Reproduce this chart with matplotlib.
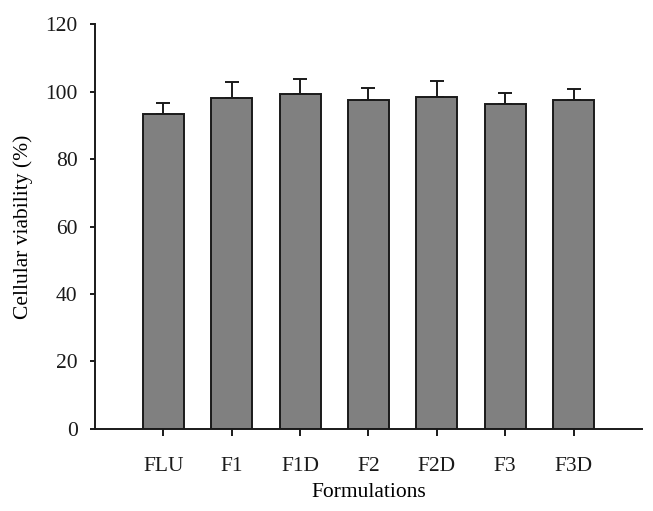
import matplotlib
matplotlib.use("Agg")
import matplotlib.pyplot as plt
import numpy as np

# data
formulations = ["FLU", "F1", "F1D", "F2", "F2D", "F3", "F3D"]
viability = [93.2, 98.0, 99.4, 97.4, 98.4, 96.4, 97.5]
viability_sd = [3.5, 4.8, 4.3, 3.7, 4.6, 3.2, 3.3]

plt.rcParams["font.family"] = ["Liberation Serif", "DejaVu Serif"]

fig = plt.figure(figsize=(6.53, 5.11), dpi=100)
ax = fig.add_axes([0.1455, 0.1605, 0.8375, 0.7925])

pos = np.arange(1, len(formulations) + 1)
ax.bar(pos, viability, width=0.6, color="#808080", edgecolor="#1a1a1a", linewidth=1.4, zorder=2)
ax.errorbar(pos, viability, yerr=[np.zeros(len(viability_sd)), viability_sd], fmt="none",
            ecolor="#1a1a1a", elinewidth=1.4, capsize=5, capthick=1.4, zorder=1)

ax.set_xlim(0, 8)
ax.set_ylim(0, 120)
ax.set_yticks(np.arange(0, 121, 20))
ax.set_xticks(pos)
ax.set_xticklabels(formulations)

for s in ["top", "right"]:
    ax.spines[s].set_visible(False)
for s in ["left", "bottom"]:
    ax.spines[s].set_linewidth(1.4)
    ax.spines[s].set_color("#1a1a1a")

ax.tick_params(axis="both", direction="out", width=1.4, labelsize=15.5, colors="#1a1a1a")
ax.tick_params(axis="x", length=5, pad=15)
ax.tick_params(axis="y", length=3.5, pad=9)

ax.set_ylabel("Cellular viability (%)", fontsize=15.5, labelpad=9)
ax.set_xlabel("Formulations", fontsize=15.5, labelpad=5)

fig.savefig("out.png", dpi=100)
